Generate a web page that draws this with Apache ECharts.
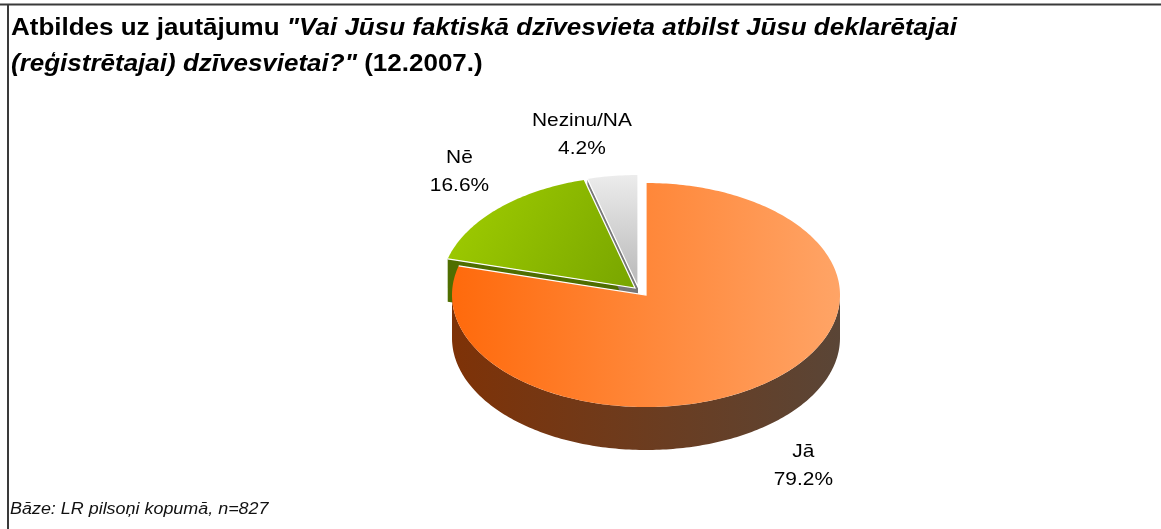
<!DOCTYPE html>
<html>
<head>
<meta charset="utf-8">
<script src="https://cdn.jsdelivr.net/npm/echarts@6/dist/echarts.min.js"></script>
<style>
  html, body { margin: 0; padding: 0; background: #fff; }
  #chart { width: 1161px; height: 529px; }
</style>
</head>
<body>
<div id="chart"></div>
<script>
const categories = ['Jā', 'Nē', 'Nezinu/NA'];
const values = [79.2, 16.6, 4.2];

// 3d pie look
const cx = 646, cy = 295, rx = 194, ry = 112, depth = 43;
const explode = [[0, 0], [-11, -7], [-8, -8]];
const labelNudge = [[9, -1], [-3, -2], [-24, 8]];
const topColors = [['#ff6a0c', '#ffa466'], ['#a2cf00', '#78a500'], ['#ececec', '#b8b8b8']];
const sideColors = [['#7e3207', '#5a4536'], ['#4f6e00', '#4f6e00'], ['#777777', '#777777']];
const FONT = '"Liberation Sans", Arial, sans-serif';

const total = values.reduce((a, b) => a + b, 0);
const RAD = Math.PI / 180;

function pt(a, off, h) {
  return [cx + off[0] + rx * Math.cos(a * RAD), cy + off[1] - ry * Math.sin(a * RAD) + (h || 0)];
}
function arc(from, to, off, h) {
  const pts = [];
  const n = Math.max(2, Math.ceil(Math.abs(to - from)));
  for (let k = 0; k <= n; k++) pts.push(pt(from + (to - from) * k / n, off, h));
  return pts;
}

function renderItem(params, api) {
  const i = params.dataIndex;
  const before = values.slice(0, i).reduce((a, b) => a + b, 0);
  const a0 = 90 - 360 * before / total;
  const a1 = a0 - 360 * api.value(0) / total;
  const off = explode[i];
  const apex = [cx + off[0], cy + off[1]];
  const apexLow = [apex[0], apex[1] + depth];
  const children = [];
  const sideFill = new echarts.graphic.LinearGradient(cx - rx, 0, cx + rx, 0, [
    { offset: 0, color: sideColors[i][0] },
    { offset: 0.5, color: echarts.color.lerp(0.5, sideColors[i]) },
    { offset: 1, color: sideColors[i][1] }
  ], true);

  // cut faces, only the ones turned to the viewer
  [[a0, a0 + 90], [a1, a1 - 90]].forEach(function (f) {
    if (Math.sin(f[1] * RAD) < -1e-6) {
      children.push({
        type: 'polygon', z2: 1,
        shape: { points: [apex, pt(f[0], off), pt(f[0], off, depth), apexLow] },
        style: { fill: sideColors[i][0] }
      });
    }
  });
  // outer wall on the front half
  for (let k = -2; k <= 1; k++) {
    const s = Math.max(a1, -180 + 360 * k), e = Math.min(a0, 360 * k);
    if (e > s) {
      children.push({
        type: 'polygon', z2: 2,
        shape: { points: arc(s, e, off).concat(arc(e, s, off, depth)) },
        style: { fill: sideFill }
      });
    }
  }
  // top
  const topFill = i === 0
    ? new echarts.graphic.LinearGradient(cx - rx, 0, cx + rx, 0, [
        { offset: 0, color: topColors[i][0] }, { offset: 1, color: topColors[i][1] }], true)
    : new echarts.graphic.LinearGradient(0, 0, i === 1 ? 1 : 0, 1, [
        { offset: 0, color: topColors[i][0] }, { offset: 1, color: topColors[i][1] }]);
  children.push({
    type: 'polygon', z2: 3,
    shape: { points: [apex].concat(arc(a0, a1, off)) },
    style: { fill: topFill }
  });
  // white edges along the cuts
  children.push({
    type: 'polyline', z2: 4,
    shape: { points: [pt(a1, off), apex, pt(a0, off)] },
    style: { stroke: '#ffffff', lineWidth: 1.2, fill: null }
  });
  // label
  const mid = (a0 + a1) / 2;
  const base = pt(mid, off, Math.sin(mid * RAD) < 0 ? depth : 0);
  children.push({
    type: 'text', z2: 5,
    x: base[0] + 50 * Math.cos(mid * RAD) + labelNudge[i][0],
    y: base[1] - 50 * Math.sin(mid * RAD) + labelNudge[i][1],
    scaleX: 1.1,
    style: {
      text: categories[i] + '\n' + api.value(0).toFixed(1) + '%',
      x: 0, y: 0,
      align: 'center', verticalAlign: 'middle',
      fontFamily: FONT, fontSize: 19, lineHeight: 28, fill: '#000'
    }
  });
  return { type: 'group', children: children };
}

const chart = echarts.init(document.getElementById('chart'));
chart.setOption({
  animation: false,
  graphic: [
    { type: 'line', shape: { x1: 0, y1: 4.5, x2: 1161, y2: 4.5 }, style: { stroke: '#3a3a3a', lineWidth: 2 } },
    { type: 'line', shape: { x1: 8, y1: 4, x2: 8, y2: 529 }, style: { stroke: '#3a3a3a', lineWidth: 2 } },
    {
      type: 'text', x: 11, y: 11, scaleX: 1.13,
      style: {
        text: '{b|Atbildes uz jautājumu }{i|"Vai Jūsu faktiskā dzīvesvieta atbilst Jūsu deklarētajai}\n{i|(reģistrētajai) dzīvesvietai?"}{b| (12.2007.)}',
        rich: {
          b: { fontFamily: FONT, fontSize: 23, fontWeight: 'bold', fill: '#000', lineHeight: 36 },
          i: { fontFamily: FONT, fontSize: 23, fontWeight: 'bold', fontStyle: 'italic', fill: '#000', lineHeight: 36 }
        }
      }
    },
    {
      type: 'text', x: 10, y: 502, scaleX: 1.12,
      style: {
        text: 'Bāze: LR pilsoņi kopumā, n=827',
        fontFamily: FONT, fontSize: 16, fontStyle: 'italic', fill: '#111'
      }
    }
  ],
  series: [{
    type: 'custom',
    coordinateSystem: 'none',
    renderItem: renderItem,
    data: values.map(function (v, i) { return { name: categories[i], value: [v] }; })
  }]
});
</script>
</body>
</html>
